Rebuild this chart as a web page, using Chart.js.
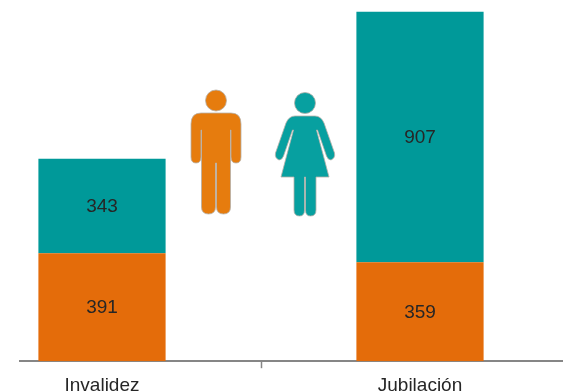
<!DOCTYPE html>
<html>
<head>
<meta charset="utf-8">
<script src="https://cdn.jsdelivr.net/npm/chart.js@4/dist/chart.umd.min.js"></script>
<style>
  html, body { margin: 0; padding: 0; background: #fff; overflow: hidden; }
  #page { position: relative; width: 563px; height: 391px; overflow: hidden; }
  /* the category axis runs past the picture on both sides, so it is cropped here */
  #crop { position: absolute; left: 19px; top: 0; width: 544px; height: 391px; overflow: hidden; }
  #chart { position: absolute; left: -76px; top: 0; }
  #figures { position: absolute; left: 0; top: 0; }
</style>
</head>
<body>
<div id="page">
  <div id="crop"><canvas id="chart" width="636" height="403"></canvas></div>
  <svg id="figures" width="563" height="391" stroke="#b5b0a8" stroke-width="0.8">
    <g fill="#e67c0e">
      <circle cx="216" cy="100.5" r="10.5"/>
      <path d="M201 113 H231 Q241 113 241 124 V157 Q241 163 236 163 Q231 163 231 157 V130 H230.500 V207 Q230.500 214 223.500 214 Q216.500 214 216.500 207 V163 H215.500 V207 Q215.500 214 208.500 214 Q201.500 214 201.500 207 V130 H201 V157 Q201 163 196 163 Q191 163 191 157 V124 Q191 113 201 113 Z"/>
    </g>
    <g fill="#07a0a0">
      <circle cx="305" cy="103" r="10.500"/>
      <path d="M295 116 H315 Q321 116 324 123 L334.500 153 Q335.500 158 331 160 Q328 160 326.500 156 L317.500 130 L316.500 130 L324 158 L329 177 H316 V210 Q316 216 310.500 216 Q305.500 216 305.500 210 V177 H304.500 V210 Q304.500 216 299.500 216 Q294 216 294 210 V177 H281 L286 158 L293.500 130 L292.500 130 L283.500 156 Q282 160 279 160 Q274.500 158 275.500 153 L286 123 Q289 116 295 116 Z"/>
    </g>
  </svg>
</div>
<script>
  const categories = ["Invalidez", "Jubilación"];
  const orangeValues = [391, 359];
  const tealValues = [343, 907];

  const orange = "#e46c0a";
  const teal = "#009999";
  const axisGrey = "#868686";
  const textColor = "#262626";
  const fontFamily = '"Liberation Sans", Arial, sans-serif';

  // numbers in the middle of each stacked segment, sitting a touch low like the original
  const segmentLabels = {
    id: "segmentLabels",
    afterDatasetsDraw(chart) {
      const ctx = chart.ctx;
      ctx.save();
      ctx.font = "19px " + fontFamily;
      ctx.fillStyle = textColor;
      ctx.textAlign = "center";
      ctx.textBaseline = "middle";
      chart.data.datasets.forEach((ds, i) => {
        chart.getDatasetMeta(i).data.forEach((bar, j) => {
          const mid = bar.getProps(["y", "base"], true);
          ctx.fillText(String(ds.data[j]), bar.x, (mid.y + mid.base) / 2 + 1);
        });
      });
      ctx.restore();
    },
  };

  new Chart(document.getElementById("chart").getContext("2d"), {
    type: "bar",
    data: {
      labels: categories,
      datasets: [
        { label: "Hombres", data: orangeValues, backgroundColor: orange, borderWidth: 0 },
        { label: "Mujeres", data: tealValues, backgroundColor: teal, borderWidth: 0 },
      ],
    },
    options: {
      responsive: false,
      animation: false,
      layout: { padding: 0 },
      categoryPercentage: 1,
      barPercentage: 0.4,
      plugins: { legend: { display: false }, tooltip: { enabled: false } },
      scales: {
        x: {
          stacked: true,
          border: { color: axisGrey, width: 2 },
          grid: { drawOnChartArea: false, drawTicks: true, tickLength: 7, color: axisGrey, tickWidth: 1.5 },
          ticks: { color: textColor, font: { family: fontFamily, size: 19 }, maxRotation: 0, padding: 6 },
        },
        y: { stacked: true, display: false, min: 0, max: 1309 },
      },
    },
    plugins: [segmentLabels],
  });
</script>
</body>
</html>
